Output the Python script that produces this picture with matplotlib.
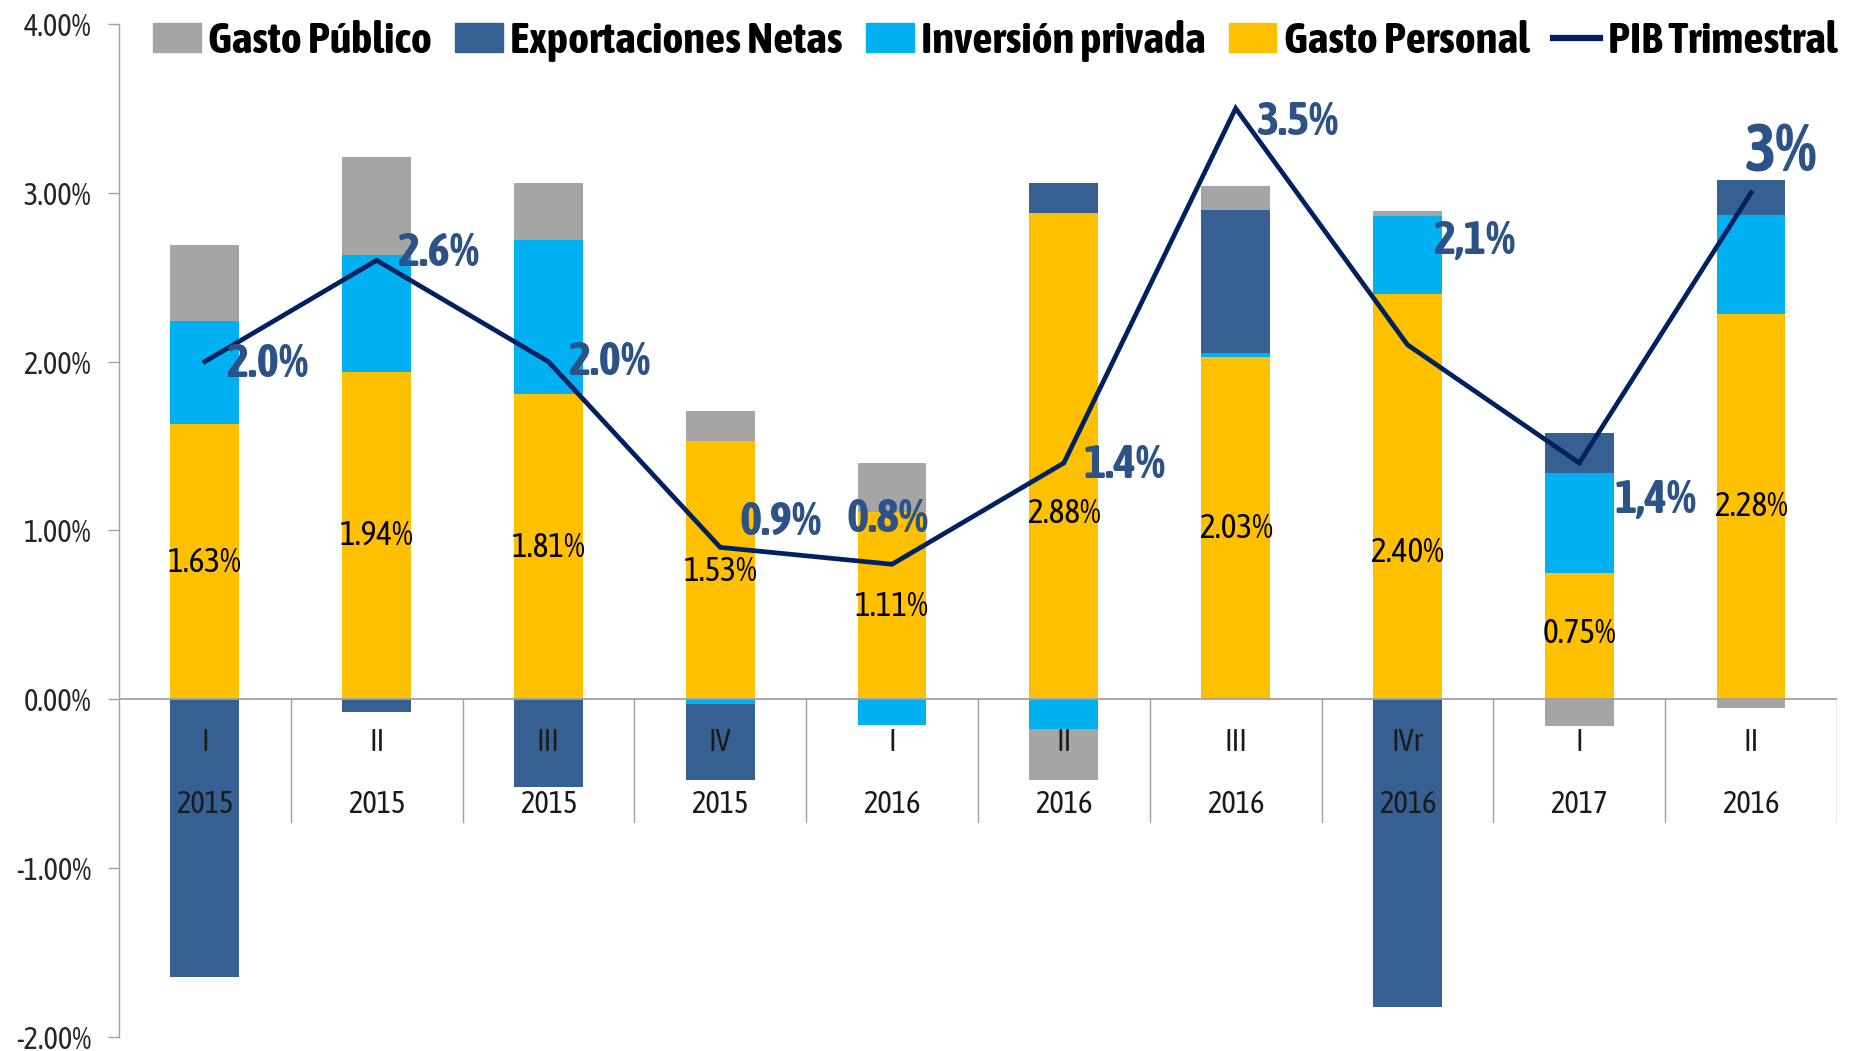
import matplotlib
matplotlib.use('Agg')
import matplotlib.pyplot as plt
from matplotlib.patches import Patch
from matplotlib.lines import Line2D
from matplotlib.ticker import FuncFormatter

plt.rcParams['font.family'] = ['Asap Condensed', 'DejaVu Sans']

# Contribuciones al PIB trimestral (puntos porcentuales)
trimestres = ['I', 'II', 'III', 'IV', 'I', 'II', 'III', 'IVr', 'I', 'II']
anios = ['2015', '2015', '2015', '2015', '2016', '2016', '2016', '2016', '2017', '2016']
gasto_personal = [1.63, 1.94, 1.81, 1.53, 1.11, 2.88, 2.03, 2.40, 0.75, 2.28]
inversion_privada = [0.61, 0.69, 0.91, -0.03, -0.15, -0.175, 0.02, 0.46, 0.59, 0.59]
exportaciones_netas = [-1.645, -0.075, -0.52, -0.45, 0.0, 0.18, 0.85, -1.82, 0.24, 0.205]
gasto_publico = [0.45, 0.58, 0.34, 0.18, 0.29, -0.30, 0.14, 0.03, -0.16, -0.05]
pib_trimestral = [2.0, 2.6, 2.0, 0.9, 0.8, 1.4, 3.5, 2.1, 1.4, 3.0]
pib_etiquetas = ['2.0%', '2.6%', '2.0%', '0.9%', '0.8%', '1.4%', '3.5%', '2,1%', '1,4%', '3%']

# layout of the labels (pixels / data heights), not data
pib_offsets = [(21, -2), (21, 7), (20, 0), (19, 25), (-46, 45),
               (20, -2), (21, -14), (26, 104), (35, -37), (-6, 40)]
pib_sizes = [34, 34, 34, 34, 34, 34, 34, 34, 34, 48]
personal_label_y = [0.81, 0.97, 0.90, 0.76, 0.55, 1.10, 1.01, 0.87, 0.39, 1.14]

colores = {
    'publico': '#A5A5A5',
    'export': '#376092',
    'inversion': '#00B0F0',
    'personal': '#FFC000',
    'pib': '#002060',
}

fig = plt.figure(figsize=(18.64, 10.51), dpi=100)
ax = fig.add_axes([0.0638, 0.0133, 0.9217, 0.9639])

x = list(range(len(trimestres)))
ancho = 0.40
pos = [0.0] * len(x)
neg = [0.0] * len(x)
series = [(gasto_personal, 'personal'), (inversion_privada, 'inversion'),
          (exportaciones_netas, 'export'), (gasto_publico, 'publico')]
for valores, clave in series:
    bottoms = []
    for i, v in enumerate(valores):
        if v >= 0:
            bottoms.append(pos[i])
            pos[i] += v
        else:
            bottoms.append(neg[i])
            neg[i] += v
    ax.bar(x, valores, ancho, bottom=bottoms, color=colores[clave], zorder=2)

# etiquetas del gasto personal
for i, v in enumerate(gasto_personal):
    ax.text(i, personal_label_y[i], f'{v:.2f}%', ha='center', va='center',
            fontsize=24, color='black', zorder=5)

# linea del PIB
ax.plot(x, pib_trimestral, color=colores['pib'], lw=3.4, zorder=4,
        solid_joinstyle='miter')
for i, v in enumerate(pib_trimestral):
    ax.annotate(pib_etiquetas[i], (i, v), xytext=pib_offsets[i],
                textcoords='offset pixels', ha='left', va='center',
                fontsize=pib_sizes[i], fontweight='bold', color='#2C5287', zorder=6)

# eje de categorias en dos niveles
ax.axhline(0, color='#A0A0A0', lw=1.3, zorder=3)
for d in range(len(x)):
    ax.plot([d + 0.5, d + 0.5], [0, -0.724], color='#A0A0A0', lw=1.0, zorder=1)
for i in x:
    ax.text(i, -0.255, trimestres[i], ha='center', va='center', fontsize=22,
            color='#1a1a1a', zorder=5)
    ax.text(i, -0.62, anios[i], ha='center', va='center', fontsize=22,
            color='#1a1a1a', zorder=5)

ax.set_xlim(-0.5, 9.5)
ax.set_ylim(-2.0, 4.0)
ax.set_yticks([-2, -1, 0, 1, 2, 3, 4])
ax.yaxis.set_major_formatter(FuncFormatter(lambda v, p: f'{v:.2f}%'))
ax.tick_params(axis='y', labelsize=22, labelcolor='#262626', color='#A0A0A0',
               length=8, width=1.0, direction='out', pad=12)
ax.set_xticks([])
for s in ['top', 'right', 'bottom']:
    ax.spines[s].set_visible(False)
ax.spines['left'].set_color('#A0A0A0')
ax.spines['left'].set_linewidth(1.0)

handles = [
    Patch(color=colores['publico'], label='Gasto Público'),
    Patch(color=colores['export'], label='Exportaciones Netas'),
    Patch(color=colores['inversion'], label='Inversión privada'),
    Patch(color=colores['personal'], label='Gasto Personal'),
    Line2D([0], [0], color=colores['pib'], lw=4.5, label='PIB Trimestral'),
]
leg = ax.legend(handles=handles, ncol=5, loc='center', bbox_to_anchor=(0.51, 0.983),
                frameon=False, prop={'size': 32, 'weight': 'bold'},
                handlelength=1.07, handleheight=0.65, handletextpad=0.16,
                columnspacing=0.53, borderaxespad=0)

fig.savefig('out.png', dpi=100)
